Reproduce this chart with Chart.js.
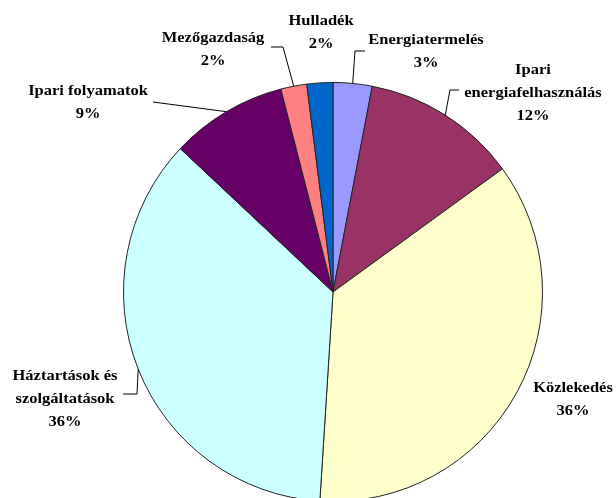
<!DOCTYPE html>
<html>
<head>
<meta charset="utf-8">
<script src="https://cdn.jsdelivr.net/npm/chart.js@4.4.1/dist/chart.umd.min.js"></script>
<style>
  html, body { margin: 0; padding: 0; background: #fff; overflow: hidden; }
  #wrap { width: 616px; height: 520px; }
</style>
</head>
<body>
<div id="wrap"><canvas id="myPieChart" width="616" height="520"></canvas></div>
<script>
// data, clockwise from 12 o'clock
var categories = ['Energiatermelés', 'Ipari energiafelhasználás', 'Közlekedés',
  'Háztartások és szolgáltatások', 'Ipari folyamatok', 'Mezőgazdaság', 'Hulladék'];
var shares = [3, 12, 36, 36, 9, 2, 2];
var sliceColors = ['#9999FF', '#993366', '#FFFFCC', '#CCFFFF', '#660066', '#FF8080', '#0066CC'];

// label lines as drawn (text is broken the same way as in the original)
var labelLines = [
  ['Energiatermelés'],
  ['Ipari', 'energiafelhasználás'],
  ['Közlekedés'],
  ['Háztartások és', 'szolgáltatások'],
  ['Ipari folyamatok'],
  ['Mezőgazdaság'],
  ['Hulladék']
];

// where each label sits (x centre, y of first line) and its leader line
var labelPos = [
  { x: 426, y: 40, elbow: [355, 51], end: [365, 51] },
  { x: 533, y: 70, elbow: [450, 90], end: [459, 90] },
  { x: 573, y: 388, elbow: null, end: null },
  { x: 65, y: 376, elbow: [137, 394], end: [123, 394] },
  { x: 88, y: 91, elbow: null, end: [153, 102] },
  { x: 213, y: 38, elbow: [283, 47], end: [271, 47] },
  { x: 321, y: 21, elbow: null, end: null }
];

var pieLabels = {
  id: 'pieLabels',
  afterDatasetsDraw: function (chart) {
    var ctx = chart.ctx;
    var meta = chart.getDatasetMeta(0);
    ctx.save();
    ctx.font = 'bold 15px "Liberation Serif", "Times New Roman", serif';
    ctx.fillStyle = '#000';
    ctx.strokeStyle = '#000';
    ctx.lineWidth = 1;
    ctx.textAlign = 'center';
    ctx.textBaseline = 'middle';
    meta.data.forEach(function (arc, i) {
      var p = labelPos[i];
      var mid = (arc.startAngle + arc.endAngle) / 2;
      var ex = arc.x + Math.cos(mid) * arc.outerRadius;
      var ey = arc.y + Math.sin(mid) * arc.outerRadius;
      if (p.end) {
        ctx.beginPath();
        ctx.moveTo(ex, ey);
        if (p.elbow) ctx.lineTo(p.elbow[0], p.elbow[1]);
        ctx.lineTo(p.end[0], p.end[1]);
        ctx.stroke();
      }
      var lines = labelLines[i].concat([shares[i] + '%']);
      lines.forEach(function (t, k) {
        // original text is a bit wider than plain Times bold
        ctx.save();
        ctx.translate(p.x, p.y + k * 23);
        ctx.scale(1.1, 1);
        ctx.fillText(t, 0, 0);
        ctx.restore();
      });
    });
    ctx.restore();
  }
};

var ctx = document.getElementById('myPieChart');
new Chart(ctx, {
  type: 'pie',
  data: {
    labels: categories,
    datasets: [{
      data: shares,
      backgroundColor: sliceColors,
      borderColor: '#222',
      borderWidth: 1,
      hoverOffset: 0,
      offset: 0
    }]
  },
  options: {
    responsive: false,
    animation: false,
    layout: { padding: { left: 123, right: 73, top: 82, bottom: 18 } },
    plugins: {
      legend: { display: false },
      tooltip: { enabled: false }
    }
  },
  plugins: [pieLabels]
});
</script>
</body>
</html>
